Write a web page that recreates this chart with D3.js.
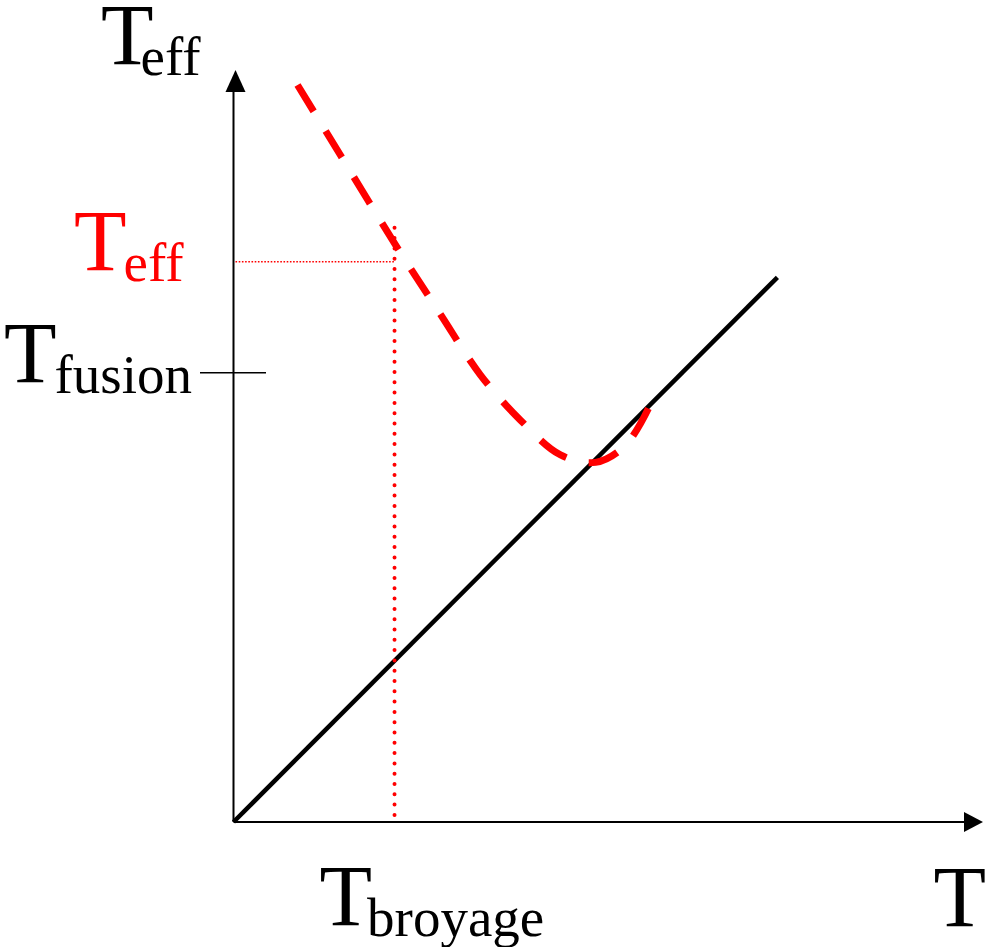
<!DOCTYPE html>
<html><head><meta charset="utf-8">
<script src="https://cdn.jsdelivr.net/npm/d3@7"></script>
<style>html,body{margin:0;padding:0;background:#fff}svg{display:block}</style>
</head><body>
<script>
// Data (arbitrary units)
const identityLine = [[0, 0], [7.35, 7.36]];           // T_eff = T
const curveX = [0.865, 1.446, 2.189, 2.797, 3.338, 3.878, 4.419, 4.892, 5.297, 5.608];
const curveY = [9.96, 9.01, 7.80, 6.86, 6.04, 5.43, 4.96, 4.86, 5.09, 5.59];
const tBroyage = 2.176;
const tEffValue = 7.57;
const tFusion = 6.07;
const dropTop = 8.03;

const W = 985, H = 947;
const svg = d3.select("body").append("svg").attr("width", W).attr("height", H);
const x = d3.scaleLinear().domain([0, 10]).range([233.5, 973.5]);
const y = d3.scaleLinear().domain([0, 10]).range([822, 82]);

// axes
svg.append("line").attr("x1", x(0)).attr("y1", y(0)).attr("x2", 966).attr("y2", y(0))
  .attr("stroke", "#000").attr("stroke-width", 2);
svg.append("path").attr("d", `M983,${y(0)} L964,${y(0)-10} L964,${y(0)+10} Z`).attr("fill", "#000");
svg.append("line").attr("x1", x(0)).attr("y1", y(0)).attr("x2", x(0)).attr("y2", 90)
  .attr("stroke", "#000").attr("stroke-width", 2);
svg.append("path").attr("d", `M${x(0)+2},70 L${x(0)-8},92 L${x(0)+12},92 Z`).attr("fill", "#000");

// fusion tick
svg.append("line").attr("x1", 200).attr("x2", 266).attr("y1", y(tFusion)).attr("y2", y(tFusion))
  .attr("stroke", "#000").attr("stroke-width", 1.5);

// identity line
svg.append("path").datum(identityLine)
  .attr("d", d3.line().x(d => x(d[0])).y(d => y(d[1])))
  .attr("fill", "none").attr("stroke", "#000").attr("stroke-width", 4.5);

// dotted guides
svg.append("line").attr("x1", x(0) + 2).attr("x2", x(tBroyage)).attr("y1", y(tEffValue)).attr("y2", y(tEffValue))
  .attr("stroke", "red").attr("stroke-width", 1.6).attr("stroke-dasharray", "1.6,1.6");
svg.append("line").attr("x1", x(tBroyage)).attr("x2", x(tBroyage)).attr("y1", y(dropTop)).attr("y2", y(0) - 6)
  .attr("stroke", "red").attr("stroke-width", 4).attr("stroke-linecap", "round").attr("stroke-dasharray", "0,10.3");

// red dashed curve
const pts = curveX.map((v, i) => [v, curveY[i]]);
svg.append("path").datum(pts)
  .attr("d", d3.line().x(d => x(d[0])).y(d => y(d[1])).curve(d3.curveCatmullRom.alpha(0.5)))
  .attr("fill", "none").attr("stroke", "red").attr("stroke-width", 7).attr("stroke-dasharray", "31,23");

// labels
const serif = "'Liberation Serif','Times New Roman',serif";
function label(tx, ty, sub, color, dx, anchor) {
  const t = svg.append("text").attr("x", tx).attr("y", ty).attr("font-family", serif)
    .attr("fill", color).attr("text-anchor", anchor || "start");
  t.append("tspan").attr("font-size", 86).text("T");
  if (sub) t.append("tspan").attr("font-size", 55).attr("dx", dx).attr("dy", 11).text(sub);
}
label(101, 64, "eff", "#000", -13);
label(74, y(tEffValue) + 8, "eff", "red", -3);
label(4, y(tFusion) + 9, "fusion", "#000", -2);
label(x(tBroyage) - 75, 925, "broyage", "#000", -5);
label(986, 926, null, "#000", 0, "end");
</script>
</body></html>
